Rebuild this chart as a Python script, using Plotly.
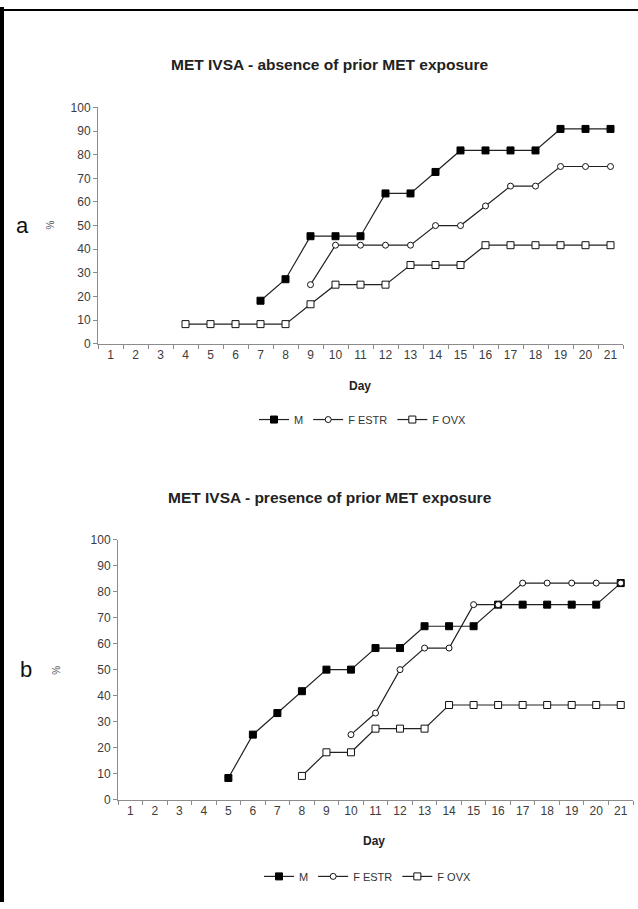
import plotly.graph_objects as go

W, H = 638, 909

# ---- data ----
days = list(range(1, 22))
y_ticks = list(range(0, 101, 10))

# Panel a: absence of prior MET exposure
a_m_days = [7, 8, 9, 10, 11, 12, 13, 14, 15, 16, 17, 18, 19, 20, 21]
a_m_vals = [18.2, 27.3, 45.5, 45.5, 45.5, 63.6, 63.6, 72.7, 81.8, 81.8, 81.8, 81.8, 90.9, 90.9, 90.9]
a_estr_days = [9, 10, 11, 12, 13, 14, 15, 16, 17, 18, 19, 20, 21]
a_estr_vals = [25.0, 41.7, 41.7, 41.7, 41.7, 50.0, 50.0, 58.3, 66.7, 66.7, 75.0, 75.0, 75.0]
a_ovx_days = [4, 5, 6, 7, 8, 9, 10, 11, 12, 13, 14, 15, 16, 17, 18, 19, 20, 21]
a_ovx_vals = [8.3, 8.3, 8.3, 8.3, 8.3, 16.7, 25.0, 25.0, 25.0, 33.3, 33.3, 33.3, 41.7, 41.7, 41.7, 41.7, 41.7, 41.7]

# Panel b: presence of prior MET exposure
b_m_days = [5, 6, 7, 8, 9, 10, 11, 12, 13, 14, 15, 16, 17, 18, 19, 20, 21]
b_m_vals = [8.3, 25.0, 33.3, 41.7, 50.0, 50.0, 58.3, 58.3, 66.7, 66.7, 66.7, 75.0, 75.0, 75.0, 75.0, 75.0, 83.3]
b_estr_days = [10, 11, 12, 13, 14, 15, 16, 17, 18, 19, 20, 21]
b_estr_vals = [25.0, 33.3, 50.0, 58.3, 58.3, 75.0, 75.0, 83.3, 83.3, 83.3, 83.3, 83.3]
b_ovx_days = [8, 9, 10, 11, 12, 13, 14, 15, 16, 17, 18, 19, 20, 21]
b_ovx_vals = [9.1, 18.2, 18.2, 27.3, 27.3, 27.3, 36.4, 36.4, 36.4, 36.4, 36.4, 36.4, 36.4, 36.4]

series_names = ["M", "F ESTR", "F OVX"]
titles = ["MET IVSA - absence of prior MET exposure", "MET IVSA - presence of prior MET exposure"]
panel_labels = ["a", "b"]

FONT = "Liberation Sans, Arial, sans-serif"
LINE_C = "#222222"
AXIS_C = "#8c8c8c"
TICK_C = "#3c3c3c"


def px_x(px):
    return px / W


def px_y(py):
    return 1 - py / H


styles = {
    "M": dict(symbol="square", size=7, color="#000000", line=dict(color="#000000", width=1)),
    "F ESTR": dict(symbol="circle", size=6, color="#ffffff", line=dict(color="#111111", width=1)),
    "F OVX": dict(symbol="square", size=7, color="#ffffff", line=dict(color="#111111", width=1)),
}

fig = go.Figure()

panels = [
    (1, "legend", [(a_m_days, a_m_vals), (a_estr_days, a_estr_vals), (a_ovx_days, a_ovx_vals)]),
    (2, "legend2", [(b_m_days, b_m_vals), (b_estr_days, b_estr_vals), (b_ovx_days, b_ovx_vals)]),
]

for idx, leg, data in panels:
    xa = "x" if idx == 1 else "x2"
    ya = "y" if idx == 1 else "y2"
    for name, (xs, ys) in zip(series_names, data):
        fig.add_trace(go.Scatter(
            x=xs, y=ys, name=name, mode="lines+markers",
            line=dict(color=LINE_C, width=1.2),
            marker=styles[name],
            xaxis=xa, yaxis=ya, legend=leg, cliponaxis=False,
        ))

axis_common_x = dict(
    range=[0.5, 21.5], tickmode="array", tickvals=days, ticktext=[str(d) for d in days],
    ticks="", showgrid=False, zeroline=False, showline=True, linecolor=AXIS_C, linewidth=1,
    tickfont=dict(family=FONT, size=12, color=TICK_C),
    minor=dict(tick0=0.5, dtick=1, ticks="outside", ticklen=4, tickcolor=AXIS_C, showgrid=False),
)
axis_common_y = dict(
    range=[0, 100], tickmode="array", tickvals=y_ticks, ticks="outside", ticklen=4,
    tickcolor=AXIS_C, showgrid=False, zeroline=False, showline=True, linecolor=AXIS_C,
    linewidth=1, tickfont=dict(family=FONT, size=12, color=TICK_C),
)

fig.update_layout(
    width=W, height=H, margin=dict(l=0, r=0, t=0, b=0),
    paper_bgcolor="white", plot_bgcolor="white",
    xaxis=dict(domain=[px_x(98), px_x(623)], anchor="y", **axis_common_x),
    yaxis=dict(domain=[px_y(342), px_y(102)], anchor="x", **axis_common_y),
    xaxis2=dict(domain=[px_x(118), px_x(633)], anchor="y2", **axis_common_x),
    yaxis2=dict(domain=[px_y(805), px_y(541)], anchor="x2", **axis_common_y),
    legend=dict(orientation="h", x=px_x(363), y=px_y(419), xanchor="center", yanchor="middle",
                font=dict(family=FONT, size=11, color="#333333"), itemwidth=30,
                bgcolor="rgba(0,0,0,0)", tracegroupgap=0),
    legend2=dict(orientation="h", x=px_x(368), y=px_y(883), xanchor="center", yanchor="middle",
                 font=dict(family=FONT, size=11, color="#333333"), itemwidth=30,
                 bgcolor="rgba(0,0,0,0)", tracegroupgap=0),
    showlegend=True,
)

annotations = []
for title, yc in zip(titles, [58, 498]):
    annotations.append(dict(text=f"<b>{title}</b>", x=px_x(330), y=px_y(yc), xref="paper", yref="paper",
                            showarrow=False, xanchor="center", yanchor="middle",
                            font=dict(family=FONT, size=15.5, color="#222222")))
for xc, yc in [(360, 385), (374, 847)]:
    annotations.append(dict(text="<b>Day</b>", x=px_x(xc), y=px_y(yc), xref="paper", yref="paper",
                            showarrow=False, xanchor="center", yanchor="middle",
                            font=dict(family=FONT, size=12, color="#222222")))
for xc, yc in [(51, 222), (57, 673)]:
    annotations.append(dict(text="%", x=px_x(xc), y=px_y(yc), xref="paper", yref="paper",
                            showarrow=False, xanchor="center", yanchor="middle", textangle=-90,
                            font=dict(family=FONT, size=10, color="#555555")))
for lab, xc, yc in [(panel_labels[0], 22, 222), (panel_labels[1], 26, 673)]:
    annotations.append(dict(text=lab, x=px_x(xc), y=px_y(yc), xref="paper", yref="paper",
                            showarrow=False, xanchor="center", yanchor="middle",
                            font=dict(family=FONT, size=22, color="#111111")))
fig.update_layout(annotations=annotations)

# frame
fig.add_shape(type="line", xref="paper", yref="paper", x0=px_x(2), x1=px_x(2), y0=0, y1=1,
              line=dict(color="black", width=4))
fig.add_shape(type="line", xref="paper", yref="paper", x0=0, x1=1, y0=px_y(3), y1=px_y(3),
              line=dict(color="black", width=2))

fig.write_html("out.html", config={"displayModeBar": False},
               post_script="document.body.style.margin='0';document.body.style.overflow='hidden';")
